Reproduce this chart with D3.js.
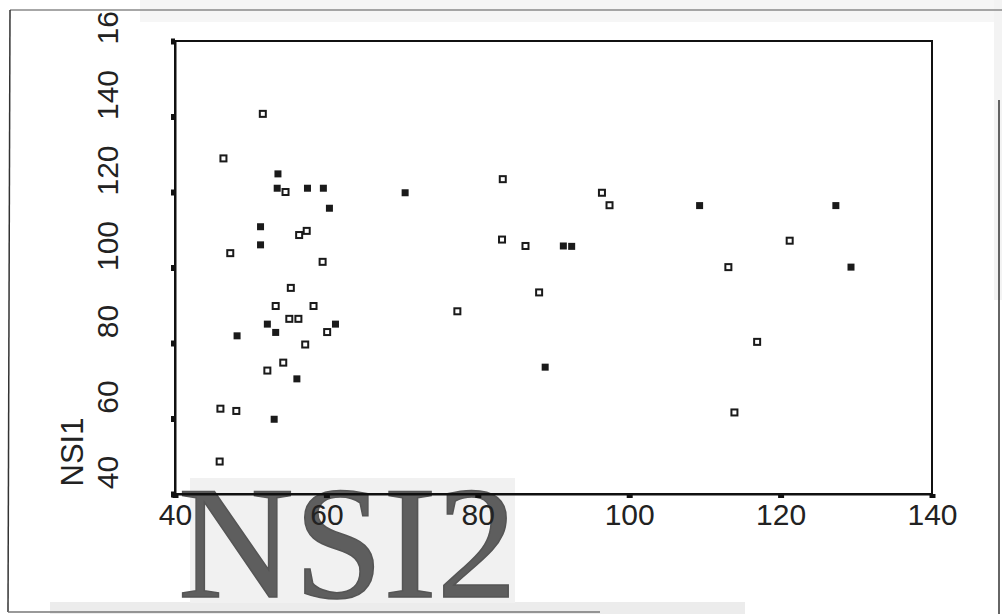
<!DOCTYPE html>
<html>
<head>
<meta charset="utf-8">
<script src="https://cdn.jsdelivr.net/npm/d3@7"></script>
<style>
  html, body { margin: 0; padding: 0; background: #fff; }
  svg { display: block; }
</style>
</head>
<body>
<svg id="chart" width="1002" height="614"></svg>
<script>
// ---- data ----
const filledNSI2 = [53.6, 53.5, 57.5, 59.6, 60.4, 51.3, 51.3, 52.2, 61.2, 53.3, 48.2, 56.1, 53.1, 70.4, 91.3, 92.4, 88.9, 109.3, 127.3, 129.3];
const filledNSI1 = [124.8, 121.0, 121.0, 121.0, 115.7, 110.8, 106.0, 85.0, 85.0, 82.8, 81.9, 70.5, 59.8, 119.8, 105.7, 105.6, 73.6, 116.4, 116.4, 100.1];
const openNSI2 = [51.6, 46.4, 54.6, 56.4, 57.4, 47.3, 59.5, 55.3, 53.3, 58.3, 55.1, 56.3, 60.1, 57.2, 54.3, 52.2, 46.0, 48.1, 45.9, 83.3, 96.4, 97.4, 83.2, 86.3, 88.1, 77.3, 121.2, 113.1, 116.9, 113.9];
const openNSI1 = [140.7, 128.9, 120.0, 108.6, 109.7, 103.8, 101.5, 94.6, 89.8, 89.8, 86.4, 86.4, 82.9, 79.6, 74.8, 72.7, 62.6, 62.0, 48.6, 123.4, 119.8, 116.5, 107.4, 105.7, 93.4, 88.4, 107.1, 100.1, 80.3, 61.6];
const xTicks = [40, 60, 80, 100, 120, 140];
const yTicks = [40, 60, 80, 100, 120, 140, 160];
const xLabel = "NSI2";
const yLabel = "NSI1";

const svg = d3.select("#chart");
const pLeft = 175, pRight = 932, pTop = 41, pBottom = 494;
const x = d3.scaleLinear().domain([40, 140]).range([pLeft, pRight]);
const y = d3.scaleLinear().domain([40, 160]).range([pBottom, pTop]);

// scan decorations: light bands and outer frame
svg.append("rect").attr("x", 140).attr("y", 0).attr("width", 862).attr("height", 22).attr("fill", "#f6f6f6");
svg.append("rect").attr("x", 994).attr("y", 0).attr("width", 8).attr("height", 300).attr("fill", "#f3f3f3");
svg.append("rect").attr("x", 50).attr("y", 602).attr("width", 695).attr("height", 12).attr("fill", "#ececec");
svg.append("line").attr("x1", 10).attr("x2", 1002).attr("y1", 10).attr("y2", 10).attr("stroke", "#8a8a8a").attr("stroke-width", 1.5);
svg.append("line").attr("x1", 10).attr("x2", 8).attr("y1", 10).attr("y2", 612).attr("stroke", "#333").attr("stroke-width", 1.5);
svg.append("line").attr("x1", 999).attr("x2", 999).attr("y1", 100).attr("y2", 614).attr("stroke", "#333").attr("stroke-width", 1.5);
svg.append("line").attr("x1", 8).attr("x2", 600).attr("y1", 612).attr("y2", 612).attr("stroke", "#777").attr("stroke-width", 1.5);

// big pasted x-axis title
svg.append("rect").attr("x", 190).attr("y", 478).attr("width", 325).attr("height", 125).attr("fill", "#f1f1f1");
svg.append("text")
  .attr("x", 178).attr("y", 597)
  .attr("font-family", "Liberation Serif, Times New Roman, serif")
  .attr("font-size", 160)
  .attr("textLength", 339)
  .attr("lengthAdjust", "spacingAndGlyphs")
  .attr("fill", "#5e5e5e")
  .attr("stroke", "#555").attr("stroke-width", 1.5)
  .text(xLabel);

// plot frame
svg.append("rect").attr("x", pLeft).attr("y", pTop).attr("width", pRight - pLeft).attr("height", pBottom - pTop)
  .attr("fill", "none").attr("stroke", "#111").attr("stroke-width", 2);

// clip for y tick labels (top cut by scan edge)
svg.append("clipPath").attr("id", "clipTop").append("rect")
  .attr("x", -400).attr("y", 10).attr("width", 1400).attr("height", 604);

// y axis
const yAxis = svg.append("g").attr("transform", `translate(${pLeft},0)`)
  .call(d3.axisLeft(y).tickValues(yTicks).tickSize(4).tickSizeOuter(0).tickFormat(d3.format("d")));
yAxis.select(".domain").attr("stroke", "#111").attr("stroke-width", 2);
yAxis.selectAll(".tick line").attr("stroke", "#111").attr("stroke-width", 6);
yAxis.attr("clip-path", "url(#clipTop)");
yAxis.selectAll(".tick text")
  .attr("x", null).attr("dy", null)
  .attr("text-anchor", "middle")
  .attr("transform", "translate(-57,-22) rotate(-90)")
  .attr("font-family", "Liberation Sans, Arial, sans-serif")
  .attr("font-size", 30)
  .attr("fill", "#222");

// x axis
const xAxis = svg.append("g").attr("transform", `translate(0,${pBottom})`)
  .call(d3.axisBottom(x).tickValues(xTicks).tickSize(4).tickSizeOuter(0).tickFormat(d3.format("d")));
xAxis.select(".domain").attr("stroke", "#111").attr("stroke-width", 2);
xAxis.selectAll(".tick line").attr("stroke", "#111").attr("stroke-width", 6);
xAxis.selectAll(".tick text")
  .attr("y", 31).attr("dy", null)
  .attr("font-family", "Liberation Sans, Arial, sans-serif")
  .attr("font-size", 30)
  .attr("fill", "#222");

// y axis title
svg.append("text")
  .attr("transform", "translate(83,452) rotate(-90)")
  .attr("text-anchor", "middle")
  .attr("font-family", "Liberation Sans, Arial, sans-serif")
  .attr("font-size", 31)
  .attr("fill", "#222")
  .text(yLabel);

// points
const openPts = openNSI2.map((v, i) => ({x: v, y: openNSI1[i]}));
const filledPts = filledNSI2.map((v, i) => ({x: v, y: filledNSI1[i]}));

svg.append("g").selectAll("rect").data(openPts).join("rect")
  .attr("x", d => x(d.x) - 3).attr("y", d => y(d.y) - 3)
  .attr("width", 6).attr("height", 6)
  .attr("fill", "#fff").attr("stroke", "#1a1a1a").attr("stroke-width", 2);

svg.append("g").selectAll("rect").data(filledPts).join("rect")
  .attr("x", d => x(d.x) - 3.5).attr("y", d => y(d.y) - 3.5)
  .attr("width", 7).attr("height", 7)
  .attr("fill", "#1a1a1a");
</script>
</body>
</html>
